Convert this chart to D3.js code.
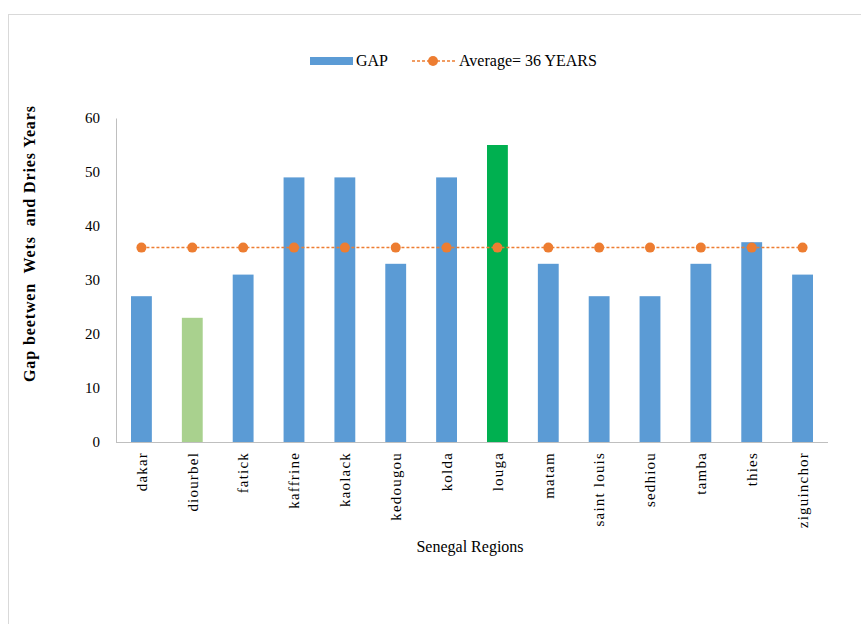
<!DOCTYPE html>
<html>
<head>
<meta charset="utf-8">
<script src="https://cdn.jsdelivr.net/npm/d3@7"></script>
<style>
  body { margin: 0; background: #fff; }
  svg text { font-family: "Liberation Serif", "Times New Roman", serif; fill: #000; }
</style>
</head>
<body>
<div id="chart"></div>
<script>
  // data
  const regions = ["dakar", "diourbel", "fatick", "kaffrine", "kaolack", "kedougou", "kolda",
                   "louga", "matam", "saint louis", "sedhiou", "tamba", "thies", "ziguinchor"];
  const gap = [27, 23, 31, 49, 49, 33, 49, 55, 33, 27, 27, 33, 37, 31];
  const average = 36;
  const yTicks = [0, 10, 20, 30, 40, 50, 60];

  const width = 861, height = 624;
  const margin = { top: 118, left: 116, right: 33, bottom: 182 };
  const serif = "'Liberation Serif', 'Times New Roman', serif";

  const blue = "#5B9BD5", orange = "#ED7D31";
  // two bars are highlighted in the original
  const barColor = r => r === "diourbel" ? "#A9D18E" : r === "louga" ? "#00B050" : blue;

  const svg = d3.select("#chart")
    .append("svg")
    .attr("width", width)
    .attr("height", height);

  // chart frame (runs off the right and bottom edge)
  svg.append("rect")
    .attr("x", 8.5).attr("y", 14.5)
    .attr("width", 900).attr("height", 700)
    .attr("fill", "none")
    .attr("stroke", "#D9D9D9");

  const xScale = d3.scaleBand()
    .domain(regions)
    .range([margin.left, width - margin.right])
    .paddingInner(0.59)
    .paddingOuter(0.295);

  const yScale = d3.scaleLinear()
    .domain([0, 60])
    .range([height - margin.bottom, margin.top]);

  const y0 = yScale(0);

  // y axis
  const yAxis = svg.append("g")
    .attr("transform", `translate(${margin.left},0)`)
    .attr("font-family", serif)
    .call(d3.axisLeft(yScale).tickValues(yTicks).tickSize(0).tickPadding(16));
  yAxis.select(".domain").attr("stroke", "#BFBFBF");
  yAxis.selectAll("text")
    .style("font-family", serif)
    .style("font-size", "15px");

  // bars
  svg.selectAll("rect.bar")
    .data(regions)
    .enter()
    .append("rect")
    .attr("class", "bar")
    .attr("x", d => xScale(d))
    .attr("y", (d, i) => yScale(gap[i]))
    .attr("width", xScale.bandwidth())
    .attr("height", (d, i) => y0 - yScale(gap[i]))
    .attr("fill", d => barColor(d));

  // x axis
  const xAxis = svg.append("g")
    .attr("transform", `translate(0,${y0})`)
    .attr("font-family", serif)
    .call(d3.axisBottom(xScale).tickSize(0).tickPadding(10));
  xAxis.select(".domain").attr("stroke", "#BFBFBF").attr("d", `M${margin.left},0.5H${width - margin.right}`);
  xAxis.selectAll("text")
    .attr("transform", "rotate(-90)")
    .attr("x", -10)
    .attr("y", 0)
    .attr("dy", "0.35em")
    .style("text-anchor", "end")
    .style("font-family", serif)
    .style("font-size", "15px")
    .style("letter-spacing", "1.2px");

  // average line
  const avgLine = d3.line()
    .x(d => xScale(d) + xScale.bandwidth() / 2)
    .y(() => yScale(average));

  svg.append("path")
    .datum(regions)
    .attr("d", avgLine)
    .attr("fill", "none")
    .attr("stroke", orange)
    .attr("stroke-width", 1.5)
    .attr("stroke-dasharray", "3,2");

  svg.selectAll("circle.avg")
    .data(regions)
    .enter()
    .append("circle")
    .attr("class", "avg")
    .attr("cx", d => xScale(d) + xScale.bandwidth() / 2)
    .attr("cy", yScale(average))
    .attr("r", 5)
    .attr("fill", orange);

  // axis titles
  svg.append("text")
    .attr("transform", "translate(35,244) rotate(-90)")
    .attr("text-anchor", "middle")
    .attr("textLength", 276)
    .attr("lengthAdjust", "spacing")
    .style("font-size", "16px")
    .style("font-weight", "bold")
    .style("white-space", "pre")
    .text("Gap beetwen  Wets  and Dries Years");

  svg.append("text")
    .attr("x", 470)
    .attr("y", 552)
    .attr("text-anchor", "middle")
    .style("font-size", "16px")
    .text("Senegal Regions");

  // legend
  const legend = svg.append("g");
  legend.append("rect")
    .attr("x", 310).attr("y", 57)
    .attr("width", 43).attr("height", 8)
    .attr("fill", blue);
  legend.append("text")
    .attr("x", 356).attr("y", 66)
    .style("font-size", "16px")
    .text("GAP");
  legend.append("line")
    .attr("x1", 412).attr("x2", 455)
    .attr("y1", 61).attr("y2", 61)
    .attr("stroke", orange)
    .attr("stroke-width", 1.5)
    .attr("stroke-dasharray", "3,2");
  legend.append("circle")
    .attr("cx", 433).attr("cy", 61).attr("r", 5)
    .attr("fill", orange);
  legend.append("text")
    .attr("x", 459).attr("y", 66)
    .style("font-size", "16px")
    .text("Average= " + average + " YEARS");
</script>
</body>
</html>
